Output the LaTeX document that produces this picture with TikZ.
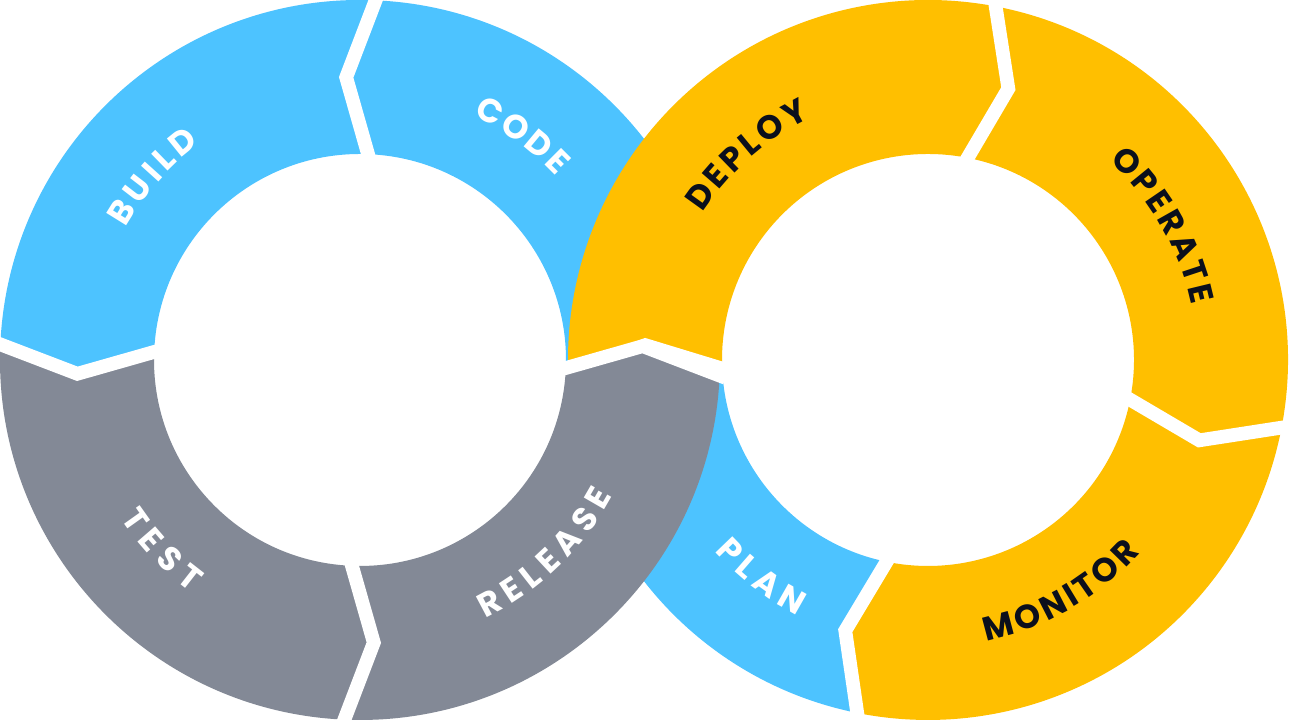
\documentclass[tikz,border=0pt]{standalone}
\usepackage{fontspec}
\usetikzlibrary{decorations.text}
\newfontfamily\lblfam{Poppins}
\newcommand\lblfont{\lblfam\fontsize{9.5}{11}\selectfont\bfseries}
\definecolor{devblue}{HTML}{4DC3FF}
\definecolor{devgray}{HTML}{838996}
\definecolor{devyellow}{HTML}{FFBF00}
\definecolor{devink}{HTML}{0B0F1C}
\tikzset{
  gapline/.style={white, line width=3.9pt},
  ringlabel/.style 2 args={decorate, decoration={text along path,
      text={|\lblfont|#1}, text color=#2, text align=fit to path}},
}
\begin{document}
\begin{tikzpicture}
  \fill[white, use as bounding box] (0,0) rectangle (12.89,7.2);
  \coordinate (L) at (3.6,3.6);
  \coordinate (R) at (9.28,3.6);
  % left ring: code, build, test
  \begin{scope}[shift={(L)}]
    \def\d{2.8}
    \foreach \a/\b/\c in {0/90/devblue, 90/180/devblue, 180/270/devgray}
      \fill[\c] ({\a-(\d)}:3.6) -- ({\a+\d}:2.83) -- ({\a-(\d)}:2.06)
        arc[start angle={\a-(\d)}, end angle={\b-(\d)}, radius=2.06]
        -- ({\b+\d}:2.83) -- ({\b-(\d)}:3.6)
        arc[start angle={\b-(\d)}, end angle={\a-(\d)}, radius=3.6] -- cycle;
  \end{scope}
  % right ring: deploy, operate, monitor, plan
  \begin{scope}[shift={(R)}]
    \def\d{-3}
    \foreach \a/\b/\c in {76.5/180/devyellow, -13.5/76.5/devyellow,
        -104/-13.5/devyellow, 180/256/devblue}
      \fill[\c] ({\a-(\d)}:3.6) -- ({\a+\d}:2.83) -- ({\a-(\d)}:2.06)
        arc[start angle={\a-(\d)}, end angle={\b-(\d)}, radius=2.06]
        -- ({\b+\d}:2.83) -- ({\b-(\d)}:3.6)
        arc[start angle={\b-(\d)}, end angle={\a-(\d)}, radius=3.6] -- cycle;
    \foreach \a in {76.5, -13.5, -104, 180}
      \draw[gapline] ({\a-(\d)}:3.66) -- ({\a+\d}:2.83) -- ({\a-(\d)}:2.0);
    \path[ringlabel={DEPLOY}{devink}] (146.9:2.69) arc[start angle=146.9, end angle=115.9, radius=2.69];
    \path[ringlabel={OPERATE}{devink}] (47.7:2.69) arc[start angle=47.7, end angle=11.7, radius=2.69];
    \path[ringlabel={MONITOR}{devink}] (-78.2:2.87) arc[start angle=-78.2, end angle=-42.2, radius=2.87];
    \path[ringlabel={PLAN}{white}] (221.9:2.87) arc[start angle=221.9, end angle=242.9, radius=2.87];
  \end{scope}
  % left ring: release on top
  \begin{scope}[shift={(L)}]
    \def\d{2.8}
    \foreach \a/\b/\c in {270/360/devgray}
      \fill[\c] ({\a-(\d)}:3.6) -- ({\a+\d}:2.83) -- ({\a-(\d)}:2.06)
        arc[start angle={\a-(\d)}, end angle={\b-(\d)}, radius=2.06]
        -- ({\b+\d}:2.83) -- ({\b-(\d)}:3.6)
        arc[start angle={\b-(\d)}, end angle={\a-(\d)}, radius=3.6] -- cycle;
    \foreach \a in {0, 90, 180, 270}
      \draw[gapline] ({\a-(\d)}:3.66) -- ({\a+\d}:2.83) -- ({\a-(\d)}:2.0);
    \path[ringlabel={CODE}{white}] (65.1:2.69) arc[start angle=65.1, end angle=43.1, radius=2.69];
    \path[ringlabel={BUILD}{white}] (150.5:2.69) arc[start angle=150.5, end angle=126.5, radius=2.69];
    \path[ringlabel={TEST}{white}] (213.4:2.87) arc[start angle=213.4, end angle=234.0, radius=2.87];
    \path[ringlabel={RELEASE}{white}] (-64.2:2.87) arc[start angle=-64.2, end angle=-28.2, radius=2.87];
  \end{scope}
\end{tikzpicture}
\end{document}
